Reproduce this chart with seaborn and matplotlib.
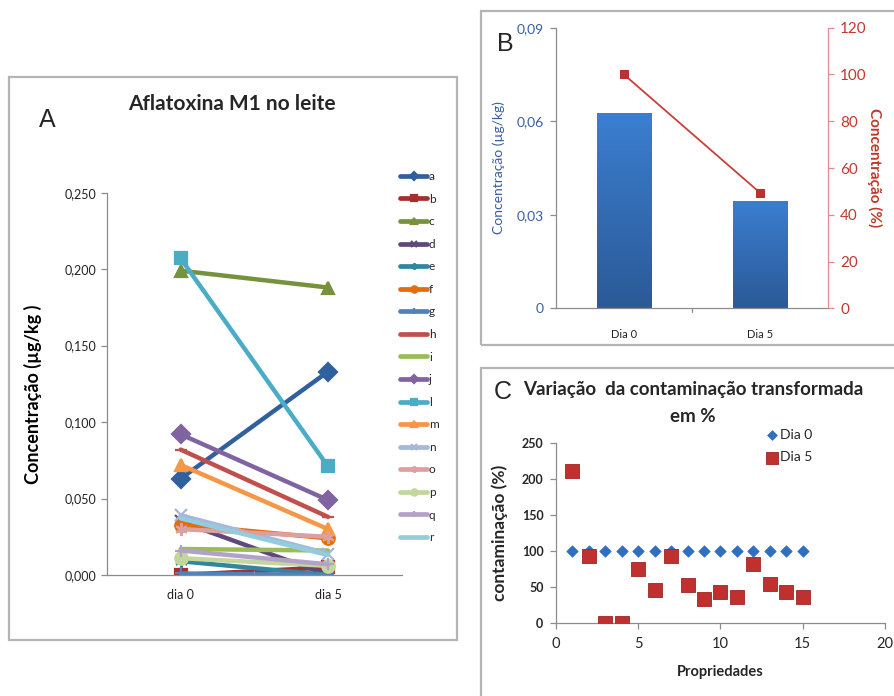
import numpy as np
import pandas as pd
import matplotlib
matplotlib.use("Agg")
import matplotlib.pyplot as plt
from matplotlib.patches import Rectangle
import seaborn as sns

# ---------------- data ----------------
series = list("abcdefghijlmnopqr")
dia0 = [0.063, 0.000, 0.199, 0.035, 0.009, 0.033, 0.001, 0.082, 0.017,
        0.092, 0.207, 0.072, 0.039, 0.030, 0.011, 0.016, 0.037]
dia5 = [0.133, 0.005, 0.188, 0.000, 0.000, 0.024, 0.000, 0.038, 0.016,
        0.049, 0.071, 0.030, 0.014, 0.025, 0.006, 0.007, 0.013]
days_a = ["dia 0", "dia 5"]

days_b = ["Dia 0", "Dia 5"]
conc_b = [0.0625, 0.0345]
pct_b = [100, 49.5]

props = list(range(1, 16))
c_dia0 = [100] * 15
c_dia5 = [211, 94, 0, 0, 75, 46, 94, 53, 34, 43, 36, 82, 55, 44, 36]

colors_a = ["#31609E", "#A3302E", "#76923C", "#5F497A", "#31859C", "#E46C0A",
            "#4F81BD", "#C0504D", "#9BBB59", "#8064A2", "#4BACC6", "#F79646",
            "#A5B8DA", "#DDA0A0", "#C3D69B", "#B3A2C7", "#93CDDD"]
markers_a = ["D", "s", "^", "x", (6, 2, 0), "o", "+", "_", "",
             "D", "s", "^", "x", (6, 2, 0), "o", "+", ""]

sns.set_theme(style="white")
plt.rcParams["font.family"] = ["Lato", "DejaVu Sans"]

W, H = 895, 696
fig = plt.figure(figsize=(W / 100, H / 100), dpi=100)


def fx(x):
    return x / W


def fy(y):
    return 1 - y / H


def box(x0, y0, x1, y1):
    fig.patches.append(Rectangle((fx(x0), fy(y1)), fx(x1 - x0), (y1 - y0) / H,
                                 transform=fig.transFigure, fill=False,
                                 edgecolor="#b4b4b4", lw=1.6, zorder=0))


box(9.5, 77, 457, 639.5)
box(481, 11, 905, 345)
box(481, 368, 905, 710)

grey = "#8c8c8c"

# ---------------- Panel A ----------------
axA = fig.add_axes([fx(107), fy(575), fx(401.7 - 107), (575 - 192.7) / H])
for s, v0, v5, c, m in zip(series, dia0, dia5, colors_a, markers_a):
    df = pd.DataFrame({"x": [0, 1], "y": [v0, v5]})
    sns.lineplot(data=df, x="x", y="y", ax=axA, color=c, lw=3.2, marker=m,
                 markersize=9, markeredgecolor=c, markeredgewidth=1.6,
                 label=s)
axA.set_xlim(-0.5, 1.5)
axA.set_ylim(0, 0.25)
axA.set_xticks([0, 1])
axA.set_xticklabels(days_a)
axA.set_yticks(np.arange(0, 0.2501, 0.05))
axA.set_yticklabels([f"{v:.3f}".replace(".", ",") for v in np.arange(0, 0.2501, 0.05)])
axA.set_xlabel("")
axA.set_ylabel("Concentração (µg/kg )", fontsize=13, fontweight="bold",
               color="black")
axA.yaxis.set_label_coords(fx(42 - 107) / fx(401.7 - 107), 0.473)
for sp in ["top", "right"]:
    axA.spines[sp].set_visible(False)
for sp in ["left", "bottom"]:
    axA.spines[sp].set_color(grey)
    axA.spines[sp].set_linewidth(0.9)
axA.tick_params(axis="y", which="both", left=True, length=4, width=0.9,
                color=grey, labelsize=9, pad=4, labelcolor="#222222")
axA.tick_params(axis="x", bottom=False, labelsize=9, pad=4, labelcolor="#222222")
axA.axvline(0.5, ymin=0, ymax=0.01, color=grey, lw=0.9)
handles, labels = axA.get_legend_handles_labels()
legA = axA.legend(handles, labels, loc="upper left",
                  bbox_to_anchor=(fx(400), fy(171)), bbox_transform=fig.transFigure,
                  frameon=False, fontsize=8.5, labelspacing=0.98, handlelength=2.3,
                  handletextpad=0.15, markerscale=0.5, borderaxespad=0, borderpad=0)
for ln in legA.get_lines():
    ln.set_linewidth(3.4)
fig.text(fx(232), fy(104), "Aflatoxina M1 no leite", ha="center", va="center",
         fontsize=15, fontweight="bold")
fig.text(fx(47), fy(120), "A", ha="center", va="center", fontsize=18,
         family="Liberation Sans")

# ---------------- Panel B ----------------
blue_txt = "#3A5E9E"
red_txt = "#C0392B"
axB = fig.add_axes([fx(556), fy(308.3), fx(827.7 - 556), (308.3 - 27.7) / H])
dfb = pd.DataFrame({"day": days_b, "conc": conc_b, "pct": pct_b})
sns.barplot(data=dfb, x="day", y="conc", ax=axB, color="#3574C4", width=0.4,
            saturation=1)
grad = np.linspace(0, 1, 256).reshape(-1, 1)
cmap = matplotlib.colors.LinearSegmentedColormap.from_list(
    "g", ["#2B5A97", "#3B7ED0"])
for p in list(axB.patches):
    x0, y0 = p.get_x(), p.get_y()
    w, h = p.get_width(), p.get_height()
    im = axB.imshow(grad, extent=[x0, x0 + w, y0, y0 + h], origin="lower",
                    cmap=cmap, aspect="auto", zorder=2)
    im.set_clip_path(p)
    p.set_facecolor("none")
    p.set_edgecolor("none")
axB.set_xlim(-0.5, 1.5)
axB.set_ylim(0, 0.09)
axB.set_yticks([0, 0.03, 0.06, 0.09])
axB.set_yticklabels(["0", "0,03", "0,06", "0,09"])
axB.set_xlabel("")
axB.set_ylabel("Concentração (µg/kg)", fontsize=10, color=blue_txt)
axB.yaxis.set_label_coords(fx(505 - 556) / fx(827.7 - 556), 0.5)
axB.tick_params(axis="y", left=True, length=4, width=0.9, color=grey,
                labelsize=10, labelcolor=blue_txt, pad=5)
axB.tick_params(axis="x", bottom=False, labelsize=8, pad=9, labelcolor="#222222")
axB.axvline(0.5, ymin=-0.012, ymax=0, color=grey, lw=0.9, clip_on=False)
for sp in ["top", "right"]:
    axB.spines[sp].set_visible(False)
for sp in ["left", "bottom"]:
    axB.spines[sp].set_color(grey)
    axB.spines[sp].set_linewidth(0.9)

axB2 = axB.twinx()
sns.lineplot(data=dfb, x="day", y="pct", ax=axB2, color="#C8403A", lw=1.3,
             marker="s", markersize=6, markeredgecolor="#B8302E",
             markerfacecolor="#C0302E")
axB2.set_ylim(0, 120)
axB2.set_xlim(-0.5, 1.5)
axB2.set_yticks(range(0, 121, 20))
axB2.set_ylabel("Concentração (%)", fontsize=11, fontweight="bold",
                color=red_txt, rotation=270)
axB2.yaxis.set_label_coords(fx(882 - 556) / fx(827.7 - 556), 0.5)
axB2.tick_params(axis="y", right=True, length=4, width=0.9, color="#E08C8C",
                 labelsize=11, labelcolor=red_txt, pad=5)
for sp in ["top", "left", "bottom"]:
    axB2.spines[sp].set_visible(False)
axB2.spines["right"].set_color("#E08C8C")
axB2.spines["right"].set_linewidth(0.9)
axB2.grid(False)
axB.grid(False)
fig.text(fx(505), fy(44), "B", ha="center", va="center", fontsize=18,
         family="Liberation Sans")

# ---------------- Panel C ----------------
axC = fig.add_axes([fx(556), fy(623.3), fx(885 - 556), (623.3 - 443.3) / H])
dfc = pd.DataFrame({"prop": props * 2, "val": c_dia0 + c_dia5,
                    "dia": ["Dia 0"] * 15 + ["Dia 5"] * 15})
sns.scatterplot(data=dfc[dfc.dia == "Dia 0"], x="prop", y="val", ax=axC,
                color="#2E6FC0", marker="D", s=34, edgecolor="#2E6FC0",
                linewidth=0.5, label="Dia 0", zorder=3)
sns.scatterplot(data=dfc[dfc.dia == "Dia 5"], x="prop", y="val", ax=axC,
                color="#C0302E", marker="s", s=88, edgecolor="#9E2624",
                linewidth=0.6, label="Dia 5", zorder=4)
axC.set_xlim(0, 20)
axC.set_ylim(0, 250)
axC.set_xticks(range(0, 21, 5))
axC.set_yticks(range(0, 251, 50))
axC.set_xlabel("Propriedades", fontsize=10.5, fontweight="bold", labelpad=10)
axC.set_ylabel("contaminação (%)", fontsize=12.5, fontweight="bold")
axC.yaxis.set_label_coords(fx(508 - 556) / fx(885 - 556), 0.5)
axC.tick_params(axis="y", left=True, length=4, width=0.9, color=grey,
                labelsize=9, pad=5)
axC.tick_params(axis="x", bottom=True, length=4, width=0.9, color=grey,
                labelsize=10.5, pad=6)
for t in axC.get_yticklabels():
    t.set_fontweight("bold")
for sp in ["top", "right"]:
    axC.spines[sp].set_visible(False)
for sp in ["left", "bottom"]:
    axC.spines[sp].set_color(grey)
    axC.spines[sp].set_linewidth(0.9)
legC = axC.legend(loc="upper left", bbox_to_anchor=(fx(765), fy(429)),
                  bbox_transform=fig.transFigure, frameon=False, fontsize=10,
                  handletextpad=0.1, labelspacing=0.75, borderaxespad=0,
                  borderpad=0, handlelength=1.0, markerscale=0.85)
fig.text(fx(693), fy(390), "Variação  da contaminação transformada",
         ha="center", va="center", fontsize=13.5, fontweight="bold")
fig.text(fx(693), fy(416), "em %", ha="center", va="center", fontsize=13.5,
         fontweight="bold")
fig.text(fx(503), fy(392), "C", ha="center", va="center", fontsize=18,
         family="Liberation Sans")

fig.savefig("out.png", dpi=100)
